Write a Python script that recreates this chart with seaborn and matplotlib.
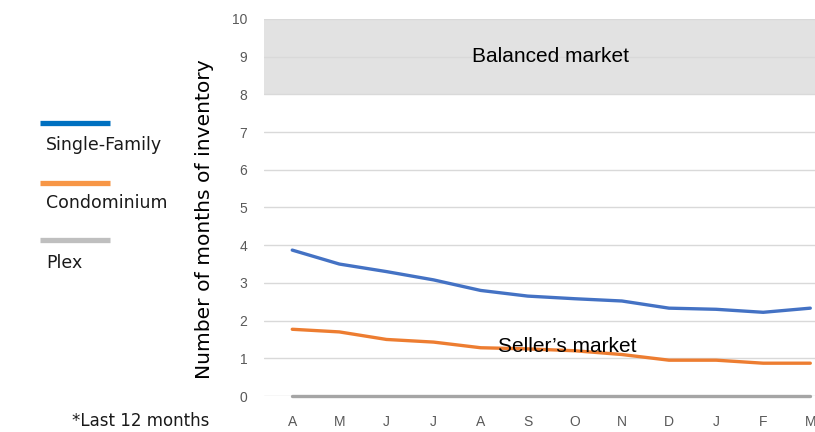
import matplotlib
matplotlib.use("Agg")
import matplotlib.pyplot as plt
from matplotlib.lines import Line2D
import seaborn as sns
import pandas as pd

months = ["A", "M", "J", "J", "A", "S", "O", "N", "D", "J", "F", "M"]
single_family = [3.87, 3.50, 3.30, 3.08, 2.80, 2.65, 2.58, 2.52, 2.33, 2.30, 2.22, 2.33]
condominium = [1.77, 1.70, 1.50, 1.43, 1.28, 1.25, 1.20, 1.10, 0.95, 0.95, 0.87, 0.87]
plex = [0, 0, 0, 0, 0, 0, 0, 0, 0, 0, 0, 0]
series_names = ["Single-Family", "Condominium", "Plex"]
y_ticks = list(range(0, 11))

sns.set_theme(style="white")
plt.rcParams["font.family"] = ["Liberation Sans", "DejaVu Sans"]

rows = []
for name, vals in zip(series_names, [single_family, condominium, plex]):
    for i, v in enumerate(vals):
        rows.append({"pos": i, "value": v, "series": name})
df = pd.DataFrame(rows)

line_colors = {"Single-Family": "#4472C4", "Condominium": "#ED7D31", "Plex": "#A5A5A5"}
legend_colors = {"Single-Family": "#0070C0", "Condominium": "#F79646", "Plex": "#BFBFBF"}

fig = plt.figure(figsize=(8.15, 4.32), dpi=100)
ax = fig.add_axes([264/815, 36/432, 1 - 264/815, (396-19)/432])

# balanced market band
ax.axhspan(8, 10, color="#E2E2E2", zorder=0, lw=0)
for t in y_ticks:
    ax.axhline(t, color="#D9D9D9", lw=1.0, zorder=1)

sns.lineplot(data=df, x="pos", y="value", hue="series", palette=line_colors,
             hue_order=series_names, linewidth=2.4, ax=ax, legend=False,
             zorder=3, clip_on=False)

ax.set_xlim(-0.6, 11.1)
ax.set_ylim(0, 10)
ax.set_xticks(range(len(months)))
ax.set_xticklabels(months)
ax.set_yticks(y_ticks)
ax.tick_params(axis="x", colors="#595959", labelsize=10, length=0, pad=14)
ax.tick_params(axis="y", colors="#595959", labelsize=10, length=0, pad=12)
for s in ax.spines.values():
    s.set_visible(False)
ax.set_xlabel("")
ax.set_ylabel("")
ax.grid(False)

fig.text(205/815, 1 - 219/432, "Number of months of inventory", rotation=90,
         ha="center", va="center", fontsize=14.6, color="#000000",
         family=["DejaVu Sans"])

ax.text(5.48, 9.0, "Balanced market", ha="center", va="center", fontsize=15, color="#000000", zorder=4)
ax.text(5.84, 1.3, "Seller\u2019s market", ha="center", va="center", fontsize=15, color="#000000", zorder=4)

# custom legend on the left
leg_y_lines = [123, 183, 240]
leg_y_text = [145, 203, 263]
for name, yl, yt in zip(series_names, leg_y_lines, leg_y_text):
    fig.add_artist(Line2D([40/815, 110/815], [1 - yl/432, 1 - yl/432],
                          color=legend_colors[name], lw=3.8, transform=fig.transFigure,
                          solid_capstyle="butt"))
    fig.text(46/815, 1 - yt/432, name, ha="left", va="center", fontsize=12.5,
             color="#1A1A1A", family=["DejaVu Sans"])

fig.text(72/815, 1 - 421/432, "*Last 12 months", ha="left", va="center", fontsize=12,
         color="#1A1A1A", family=["DejaVu Sans"])

fig.savefig("out.png", dpi=100)
